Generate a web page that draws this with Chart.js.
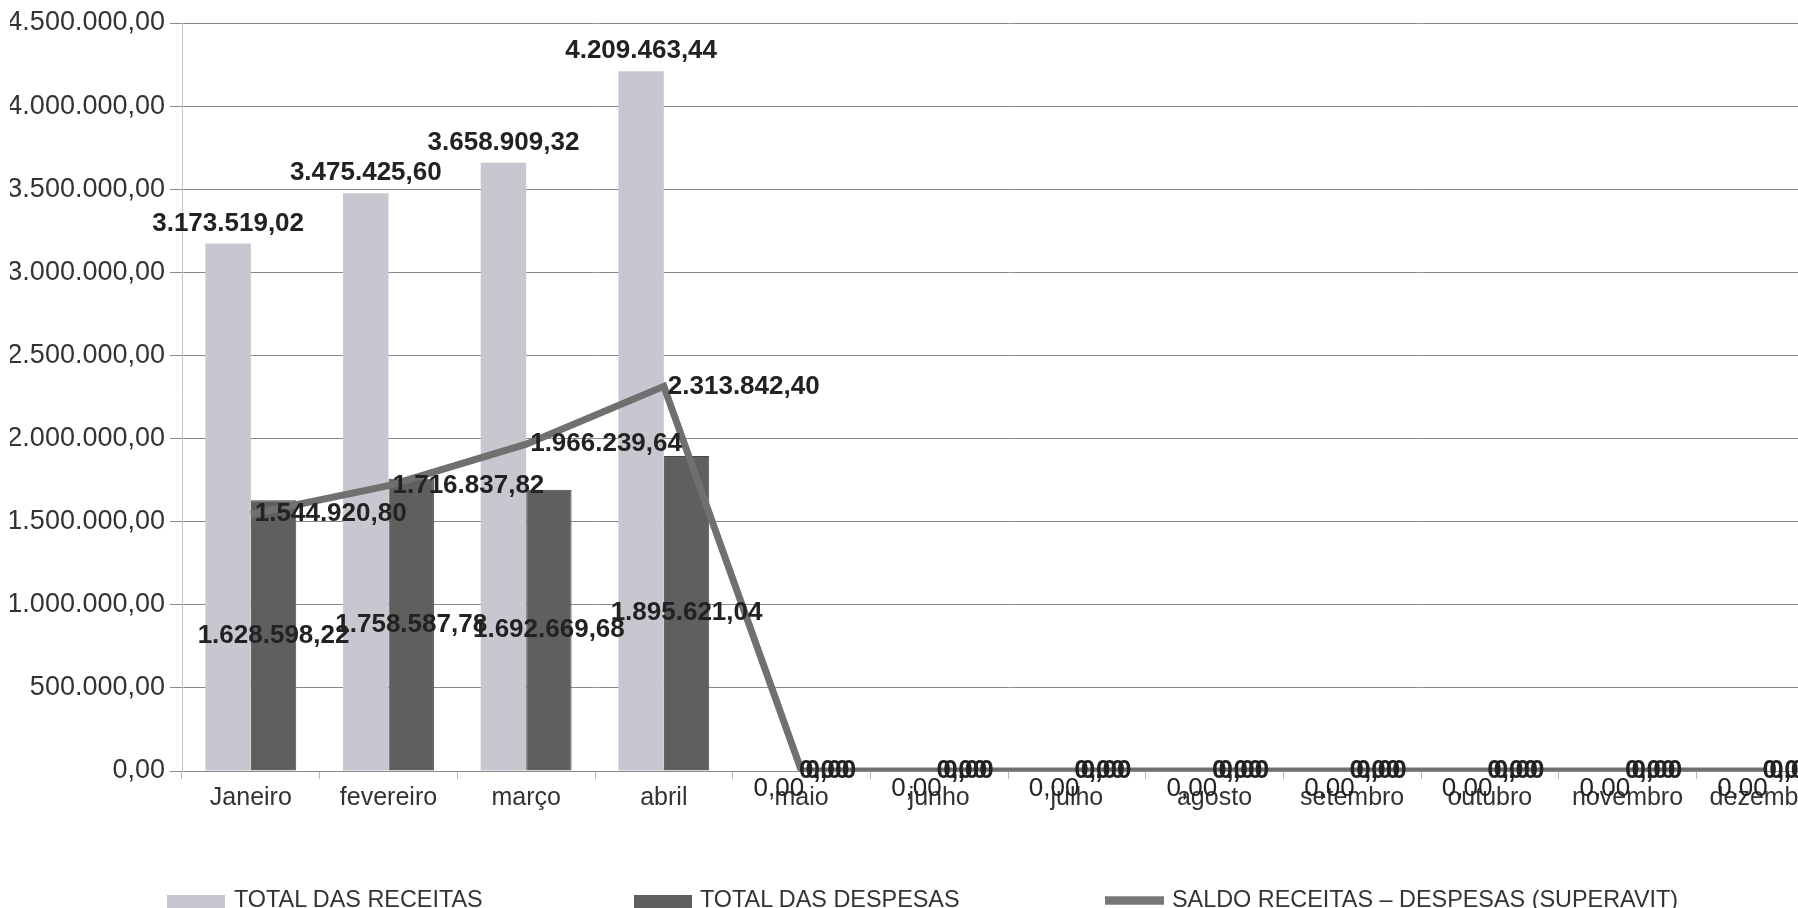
<!DOCTYPE html>
<html>
<head>
<meta charset="utf-8">
<script src="https://cdn.jsdelivr.net/npm/chart.js@4.4.0/dist/chart.umd.min.js"></script>
<style>
  body { margin: 0; width: 1798px; height: 908px; overflow: hidden; background: #fff; font-family: "Liberation Sans", Arial, sans-serif; }
  #wrap { position: relative; width: 1840px; height: 908px; }
  .leg { position: absolute; top: 887px; height: 30px; font-size: 23.4px; line-height: 23px; color: #333; white-space: nowrap; }
  .leg .box { position: absolute; left: 0; }
  .leg .txt { position: absolute; top: 1px; }
</style>
</head>
<body>
<div id="wrap">
  <canvas id="saldo_chart" width="1840" height="908" style="width:1840px;height:908px"></canvas>
  <div class="leg" style="left:167px"><span class="box" style="top:8px;width:58px;height:16px;background:#c7c7cf"></span><span class="txt" style="left:67px">TOTAL DAS RECEITAS</span></div>
  <div class="leg" style="left:634px"><span class="box" style="top:8px;width:58px;height:16px;background:#5f5f5f"></span><span class="txt" style="left:66px">TOTAL DAS DESPESAS</span></div>
  <div class="leg" style="left:1105px"><span class="box" style="top:9px;width:59px;height:7px;background:#767676;border-top:1px solid #9a9a9a;border-bottom:1px solid #9a9a9a"></span><span class="txt" style="left:67px">SALDO RECEITAS – DESPESAS (SUPERAVIT)</span></div>
</div>
<script>
var meses = ["Janeiro", "fevereiro", "março", "abril", "maio", "junho", "julho", "agosto", "setembro", "outubro", "novembro", "dezembro"];
var receitas = [3173519.02, 3475425.60, 3658909.32, 4209463.44, 0, 0, 0, 0, 0, 0, 0, 0];
var despesas = [1628598.22, 1758587.78, 1692669.68, 1895621.04, 0, 0, 0, 0, 0, 0, 0, 0];
var saldo = [1544920.80, 1716837.82, 1966239.64, 2313842.40, 0, 0, 0, 0, 0, 0, 0, 0];
var yMax = 4500000;
var yStep = 500000;

// numero no formato 1.234.567,89
function fmt(v) {
  var s = Number(v).toFixed(2).split('.');
  return s[0].replace(/\B(?=(\d{3})+(?!\d))/g, '.') + ',' + s[1];
}

// rotulos de dados (receitas em cima, despesas no meio, saldo a direita)
var rotulos = {
  id: 'rotulos',
  afterDatasetsDraw: function(chart) {
    var ctx = chart.ctx;
    ctx.save();
    ctx.fillStyle = '#222';
    ctx.textBaseline = 'middle';
    chart.data.datasets.forEach(function(ds, i) {
      var meta = chart.getDatasetMeta(i);
      meta.data.forEach(function(el, j) {
        var v = ds.data[j];
        var txt = fmt(v);
        if (ds.label == "TOTAL DAS RECEITAS") {
          ctx.font = (v > 0 ? 'bold ' : '') + '26px "Liberation Sans"';
          ctx.textAlign = 'center';
          ctx.fillText(txt, el.x, v > 0 ? el.y - 20 : el.y + 18);
        } else if (ds.label == "TOTAL DAS DESPESAS") {
          ctx.font = 'bold 26px "Liberation Sans"';
          ctx.textAlign = 'center';
          ctx.fillText(txt, el.x, (el.y + el.base) / 2);
        } else {
          ctx.font = 'bold 26px "Liberation Sans"';
          ctx.textAlign = 'left';
          ctx.fillText(txt, el.x + 4, el.y);
        }
      });
    });
    ctx.restore();
  }
};

var ctx = document.getElementById("saldo_chart").getContext('2d');
var saldo_chart = new Chart(ctx, {
  type: 'bar',
  data: {
    labels: meses,
    datasets: [{
      label: "TOTAL DAS RECEITAS",
      data: receitas,
      backgroundColor: "#c7c7cf",
      borderWidth: 0,
      order: 2
    }, {
      label: "TOTAL DAS DESPESAS",
      data: despesas,
      backgroundColor: "#5f5f5f",
      borderColor: "#4a4a4a",
      borderWidth: 1,
      order: 2
    }, {
      type: 'line',
      label: "SALDO RECEITAS – DESPESAS (SUPERAVIT)",
      data: saldo,
      borderColor: "#707070",
      backgroundColor: "#707070",
      borderWidth: 7,
      pointRadius: 0,
      tension: 0,
      order: 1
    }]
  },
  options: {
    responsive: false,
    animation: false,
    datasets: { bar: { barPercentage: 1.0, categoryPercentage: 0.66 } },
    layout: { padding: { left: 10, right: 6, top: 23, bottom: 92 } },
    plugins: { legend: { display: false }, tooltip: { enabled: false } },
    scales: {
      x: {
        grid: { drawOnChartArea: false, drawTicks: true, tickLength: 8, color: '#bbbbbb', offset: true },
        border: { display: true, color: '#8a8a8a' },
        ticks: { font: { family: 'Liberation Sans', size: 25 }, color: '#333', maxRotation: 0, autoSkip: false, padding: 4 },
        afterFit: function(scale) { scale.height = 45; }
      },
      y: {
        min: 0,
        max: yMax,
        grid: { color: '#8a8a8a', lineWidth: 1, tickLength: 12 },
        border: { display: true, color: '#c4c4c4' },
        ticks: { stepSize: yStep, font: { family: 'Liberation Sans', size: 27 }, color: '#333', padding: 5,
          callback: function(v) { return fmt(v); } },
        afterFit: function(scale) { scale.width = 172; }
      }
    }
  },
  plugins: [rotulos]
});
</script>
</body>
</html>
